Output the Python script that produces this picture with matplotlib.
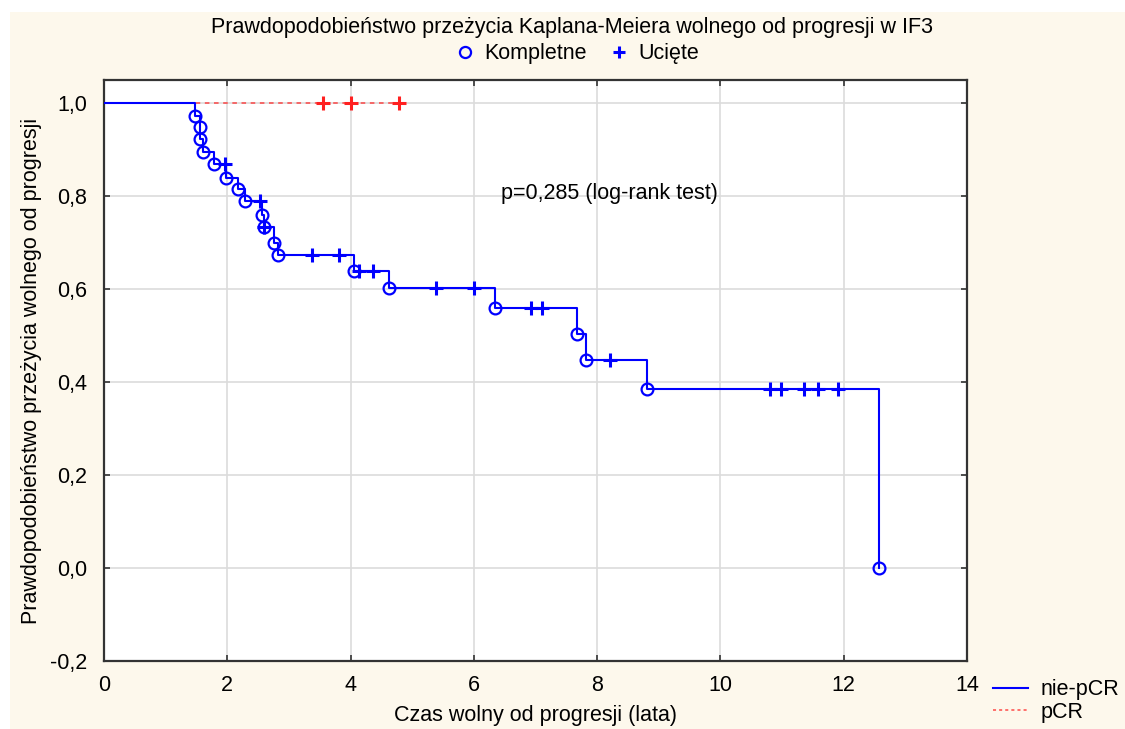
import matplotlib
matplotlib.use('Agg')
import matplotlib.pyplot as plt
from matplotlib.lines import Line2D
from matplotlib.patches import Rectangle

plt.rcParams['font.family'] = ['Liberation Sans', 'DejaVu Sans']

# --------------------------------
# data
# --------------------------------
# nie-pCR: events (circles)
event_t = [1.48, 1.55, 1.56, 1.60, 1.78, 1.98, 2.17, 2.29, 2.56, 2.59, 2.76, 2.83,
           4.05, 4.62, 6.35, 7.68, 7.82, 8.81, 12.58]
event_s = [0.972, 0.949, 0.924, 0.895, 0.869, 0.840, 0.815, 0.789, 0.760, 0.734,
           0.699, 0.673, 0.639, 0.603, 0.560, 0.503, 0.447, 0.385, 0.0]
# nie-pCR: censored (crosses)
cens_t = [1.97, 2.53, 2.59, 3.37, 3.82, 4.13, 4.36, 5.38, 6.00, 6.92, 7.11, 8.21,
          10.81, 10.99, 11.36, 11.58, 11.90]
cens_s = [0.869, 0.789, 0.734, 0.673, 0.673, 0.639, 0.639, 0.603, 0.603, 0.560,
          0.560, 0.447, 0.385, 0.385, 0.385, 0.385, 0.385]
# pCR: no events, only censored
pcr_t = [3.56, 4.01, 4.78]
pcr_s = [1.0, 1.0, 1.0]

xticks = [0, 2, 4, 6, 8, 10, 12, 14]
yticks = [-0.2, 0.0, 0.2, 0.4, 0.6, 0.8, 1.0]

blue = '#0000ff'
red = '#ff2020'
fs = 15.5

W, H = 1125, 729
fig = plt.figure(figsize=(W / 100, H / 100), dpi=100, facecolor='white')
fig.patches.append(Rectangle((10 / W, 0), 1, 1 - 12 / H, transform=fig.transFigure,
                             facecolor='#fdf8ec', edgecolor='none', zorder=-10))

ax = fig.add_axes([104 / W, 1 - 661 / H, (967 - 104) / W, (661 - 80) / H])
ax.set_facecolor('white')

# step line for nie-pCR
line_x = [0.0]
line_y = [1.0]
prev = 1.0
for t, s in zip(event_t, event_s):
    line_x += [t, t]
    line_y += [prev, s]
    prev = s
ax.plot(line_x, line_y, color=blue, lw=1.5, zorder=3)
ax.plot(event_t, event_s, 'o', mfc='none', mec=blue, ms=8.5, mew=1.6, zorder=4)
ax.plot(cens_t, cens_s, '+', color=blue, ms=9.5, mew=2.2, zorder=4)

# pCR
ax.plot([0] + pcr_t, [1.0] + pcr_s, color=red, lw=1.1, ls=(0, (3, 3)), alpha=0.8, zorder=2)
ax.plot(pcr_t, pcr_s, '+', color=red, ms=9.5, mew=2.2, zorder=4)

ax.set_xlim(0, 14)
ax.set_ylim(-0.2, 1.05)
ax.set_xticks(xticks)
ax.set_yticks(yticks)
ax.set_xticklabels([str(v) for v in xticks])
ax.set_yticklabels([f"{v:.1f}".replace('.', ',') for v in yticks])
ax.tick_params(direction='in', length=4, width=1.2, labelsize=fs, colors='#333333',
               labelcolor='black', top=True, right=True)
ax.tick_params(axis='x', pad=10)
ax.tick_params(axis='y', pad=12)
ax.grid(True, color='#dcdcdc', lw=1.2, zorder=0)
for sp in ax.spines.values():
    sp.set_color('#333333')
    sp.set_linewidth(1.6)

fig.text(535 / W, 1 - 716 / H, "Czas wolny od progresji (lata)", fontsize=fs,
         ha='center', va='center')
ax.set_ylabel("Prawdopodobieństwo przeżycia wolnego od progresji", fontsize=fs, labelpad=6)

ax.text(8.2, 0.805, "p=0,285 (log-rank test)", fontsize=fs, ha='center', va='center')

fig.text(572 / W, 1 - 28 / H, "Prawdopodobieństwo przeżycia Kaplana-Meiera wolnego od progresji w IF3",
         fontsize=fs, ha='center', va='center')

# legend under the title
top_handles = [
    Line2D([], [], ls='none', marker='o', mfc='none', mec=blue, ms=8, mew=1.6),
    Line2D([], [], ls='none', marker='+', color=blue, ms=9, mew=2.2),
]
fig.legend(top_handles, ["Kompletne", "Ucięte"], loc='center', ncol=2,
           bbox_to_anchor=(577 / W, 1 - 54 / H), frameon=False, fontsize=fs,
           handletextpad=0.4, columnspacing=1.0, handlelength=1.0)

# series legend, bottom right
series_handles = [
    Line2D([], [], color=blue, lw=1.5),
    Line2D([], [], color=red, lw=1.1, ls=(0, (2, 2)), alpha=0.8),
]
fig.legend(series_handles, ["nie-pCR", "pCR"], loc='center left',
           bbox_to_anchor=(974 / W, 1 - 701 / H), frameon=False, fontsize=fs,
           handlelength=1.6, handletextpad=0.6, labelspacing=0.05)

fig.savefig("out.png", dpi=100, facecolor=fig.get_facecolor())
